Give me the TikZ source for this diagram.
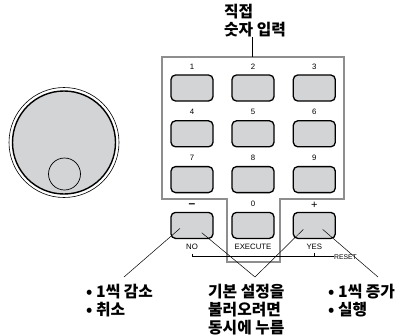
\documentclass[tikz,border=0pt]{standalone}
\usepackage{fontspec}
\setmainfont{Liberation Sans}
\newfontfamily\krfont{Noto Sans CJK KR}
\usetikzlibrary{positioning, calc}
\definecolor{keygray}{HTML}{D3D4D5}
\definecolor{framegray}{HTML}{8E8E8E}

\begin{document}
\begin{tikzpicture}[x=1pt, y=-1pt,
    key/.style={rectangle, rounded corners=4.5pt, draw=black, fill=keygray,
                minimum width=42pt, minimum height=26pt, line width=1.3pt, inner sep=0pt},
    keylabel/.style={font=\fontsize{7.8}{8}\selectfont, inner sep=0pt},
    note/.style={font=\krfont\bfseries\fontsize{15.8}{17.6}\selectfont, align=left,
                 anchor=west, inner sep=0pt},
    lead/.style={line width=0.5pt, black}
]
\useasboundingbox (0,0) rectangle (404,335);

% jog dial
\draw[line width=0.6pt] (64,142.5) circle (55);
\draw[line width=1.4pt, fill=keygray] (64,142.5) circle (51.5);
\draw[line width=0.7pt] (64.5,174) circle (16);

% frame round the number keys
\draw[framegray, line width=1.8pt] (162,57) -- (344,57) -- (344,199) -- (280,199)
    -- (280,262) -- (227,262) -- (227,199) -- (162,199) -- cycle;

% keys
\node[key] (k1) at (192,88) {};
\node[key] (k2) at (253,88) {};
\node[key] (k3) at (314.3,88) {};
\node[key] (k4) at (192,133.8) {};
\node[key] (k5) at (253,133.8) {};
\node[key] (k6) at (314.3,133.8) {};
\node[key] (k7) at (192,179.6) {};
\node[key] (k8) at (253,179.6) {};
\node[key] (k9) at (314.3,179.6) {};
\node[key] (kminus) at (192,225.4) {};
\node[key] (k0) at (253,225.4) {};
\node[key] (kplus) at (314.3,225.4) {};

\node[keylabel, above=5pt of k1] {1};
\node[keylabel, above=5pt of k2] {2};
\node[keylabel, above=5pt of k3] {3};
\node[keylabel, above=5pt of k4] {4};
\node[keylabel, above=5pt of k5] {5};
\node[keylabel, above=5pt of k6] {6};
\node[keylabel, above=5pt of k7] {7};
\node[keylabel, above=5pt of k8] {8};
\node[keylabel, above=5pt of k9] {9};
\node[keylabel, font=\fontsize{12}{12}\selectfont\bfseries, above=4pt of kminus] {\textendash};
\node[keylabel, above=5pt of k0] {0};
\node[keylabel, font=\fontsize{11}{11}\selectfont, above=3.5pt of kplus] {+};

\node[keylabel] (no) at (192,247.3) {NO};
\node[keylabel] (exec) at (253,247.3) {EXECUTE};
\node[keylabel] (yes) at (314.3,247.3) {YES};
\node[keylabel, font=\fontsize{6.8}{7}\selectfont, anchor=west] (reset) at (334,256.7) {RESET};

% reset bracket
\coordinate (noend) at (192.3,253.5);
\coordinate (yesend) at (314.3,252.5);
\draw[lead] (noend) |- (reset.west);
\draw[lead] (yesend) -- (yesend |- reset.west);

% texts
\node[note] (title) at (224,20.8) {직접\\숫자 입력};
\coordinate (frametop) at (252.3,57);
\draw[line width=0.8pt] (frametop) -- (252.3,37);

\node[note] (minusnote) at (86,300.3) {• 1씩 감소\\• 취소};
\node[note] (resetnote) at (208,309.5) {기본 설정을\\불러오려면\\동시에 누름};
\node[note] (plusnote) at (328,300.3) {• 1씩 증가\\• 실행};

\coordinate (minustip) at (124,277);
\coordinate (resettip) at (255,277);
\coordinate (plustip) at (378,277);

\draw[lead] ($(kminus)+(-12,3)$) -- (minustip);
\draw[lead] ($(kminus)+(9.7,7.3)$) -- (resettip);
\draw[lead] ($(kplus)+(-11,4)$) -- (resettip);
\draw[lead] ($(kplus)+(8.4,4)$) -- (plustip);
\end{tikzpicture}
\end{document}
